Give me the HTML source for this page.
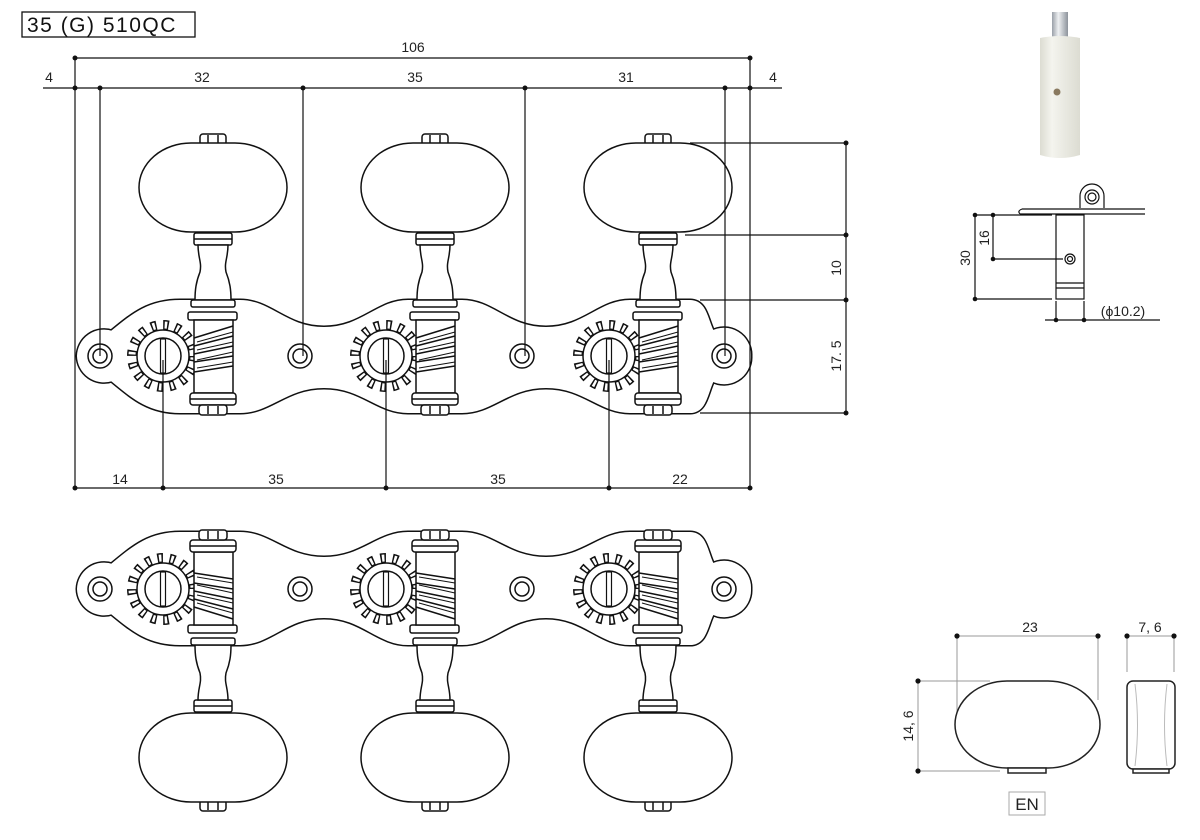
<!DOCTYPE html>
<html><head><meta charset="utf-8"><style>
html,body{margin:0;padding:0;background:#fff;width:1200px;height:840px;overflow:hidden}
svg{display:block}
text{font-family:"Liberation Sans",sans-serif;fill:#222}
</style></head><body>
<svg width="1200" height="840" viewBox="0 0 1200 840" xmlns="http://www.w3.org/2000/svg">
<defs>
<path id="plate" d="M80,356 A24,24 0 0 1 112,334 C135,315 150,303 180,303 L240,303 C270,303 285,330 324,330 C363,330 378,303 408,303 L462,303 C492,303 507,330 546,330 C585,330 600,303 630,303 L690,303 C705,303 705,322 712,334 A24,24 0 0 1 748,356 A24,24 0 0 1 712,378 C705,390 705,410 690,410 L630,410 C600,410 585,385 546,385 C507,385 492,410 462,410 L408,410 C378,410 363,385 324,385 C285,385 270,410 240,410 L180,410 C150,410 135,397 112,378 A24,24 0 0 1 80,356 Z"/>
<g id="gear">
<circle cx="0" cy="0" r="31" fill="none" stroke="#111" stroke-width="10" stroke-dasharray="5.5 6.67"/>
<circle cx="0" cy="0" r="31" fill="none" stroke="#fff" stroke-width="7" stroke-dasharray="2.5 9.67" stroke-dashoffset="-1.5"/>
<circle cx="0" cy="0" r="26" fill="#fff" stroke="#111" stroke-width="1.5"/>
<circle cx="0" cy="0" r="18" fill="#fff" stroke="#111" stroke-width="1.5"/>
<rect x="-2.5" y="-17" width="5" height="34" fill="#fff" stroke="#111" stroke-width="1.2"/>
</g>
<g id="tuner" fill="#fff" stroke="#111" stroke-width="1.5">
<rect x="-13" y="134" width="26" height="11" rx="3"/>
<line x1="-5" y1="135" x2="-5" y2="143"/><line x1="5" y1="135" x2="5" y2="143"/>
<rect x="-74" y="143" width="148" height="89" rx="52" ry="44.5"/>
<rect x="-19" y="233" width="38" height="12" rx="2"/>
<line x1="-19" y1="239" x2="19" y2="239"/>
<path d="M-15,245 L15,245 C15,258 11,262 13,272 C17,282 18,290 18,300 L-18,300 C-18,290 -17,282 -13,272 C-11,262 -15,258 -15,245 Z"/>
<rect x="-22" y="300" width="44" height="7" rx="2"/>
<rect x="-25" y="312" width="49" height="8" rx="2"/>
<rect x="-19" y="320" width="39" height="73"/>
<path d="M-19,338 L20,326 M-19,346 L20,336 M-19,354 L20,346 M-19,362 L20,356 M-19,372 L20,366" fill="none"/>
<path d="M-16,342 L20,332 M-16,350 L20,342 M-16,360 L20,352 M-16,368 L20,362" fill="none" stroke-width="1"/>
<rect x="-23" y="393" width="46" height="12" rx="3"/>
<line x1="-23" y1="399" x2="23" y2="399"/>
<rect x="-14" y="405" width="28" height="10" rx="3"/>
<line x1="-5" y1="406" x2="-5" y2="414"/><line x1="5" y1="406" x2="5" y2="414"/>
</g>
<g id="set">
<use href="#plate" fill="#fff" stroke="#111" stroke-width="9"/>
<use href="#plate" fill="#fff" stroke="#fff" stroke-width="6"/>
<g fill="#fff" stroke="#111" stroke-width="1.5">
<circle cx="100" cy="356" r="12"/><circle cx="100" cy="356" r="7"/>
<circle cx="724" cy="356" r="12"/><circle cx="724" cy="356" r="7"/>
<circle cx="300" cy="356" r="12"/><circle cx="300" cy="356" r="7"/>
<circle cx="522" cy="356" r="12"/><circle cx="522" cy="356" r="7"/>
</g>
<use href="#gear" transform="translate(163,356)"/>
<use href="#gear" transform="translate(386,356)"/>
<use href="#gear" transform="translate(609,356)"/>
<use href="#tuner" transform="translate(213,0)"/>
<use href="#tuner" transform="translate(435,0)"/>
<use href="#tuner" transform="translate(658,0)"/>
</g>
</defs>

<rect x="22" y="12" width="173" height="25" fill="#fff" stroke="#111" stroke-width="1.3"/>
<text x="27" y="32" font-size="21" letter-spacing="1.5" style="fill:#111">35 (G) 510QC</text>

<use href="#set"/>
<use href="#set" transform="translate(0,945) scale(1,-1)"/>

<g stroke="#111" stroke-width="1.2" fill="none">
<line x1="75" y1="58" x2="750" y2="58"/>
<line x1="43" y1="88" x2="782" y2="88"/>
<line x1="75" y1="58" x2="75" y2="488"/>
<line x1="750" y1="58" x2="750" y2="488"/>
<line x1="100" y1="88" x2="100" y2="356"/>
<line x1="303" y1="88" x2="303" y2="356"/>
<line x1="525" y1="88" x2="525" y2="356"/>
<line x1="725" y1="88" x2="725" y2="356"/>
<line x1="75" y1="488" x2="750" y2="488"/>
<line x1="163" y1="360" x2="163" y2="488"/>
<line x1="386" y1="360" x2="386" y2="488"/>
<line x1="609" y1="360" x2="609" y2="488"/>
<line x1="690" y1="143" x2="848" y2="143"/>
<line x1="685" y1="235" x2="848" y2="235"/>
<line x1="700" y1="300" x2="848" y2="300"/>
<line x1="700" y1="413" x2="848" y2="413"/>
<line x1="846" y1="143" x2="846" y2="413"/>
</g>
<g fill="#111">
<circle cx="75" cy="58" r="2.5"/><circle cx="750" cy="58" r="2.5"/>
<circle cx="75" cy="88" r="2.5"/><circle cx="100" cy="88" r="2.5"/><circle cx="303" cy="88" r="2.5"/><circle cx="525" cy="88" r="2.5"/><circle cx="725" cy="88" r="2.5"/><circle cx="750" cy="88" r="2.5"/>
<circle cx="75" cy="488" r="2.5"/><circle cx="163" cy="488" r="2.5"/><circle cx="386" cy="488" r="2.5"/><circle cx="609" cy="488" r="2.5"/><circle cx="750" cy="488" r="2.5"/>
<circle cx="846" cy="143" r="2.5"/><circle cx="846" cy="235" r="2.5"/><circle cx="846" cy="300" r="2.5"/><circle cx="846" cy="413" r="2.5"/>
</g>
<g font-size="14" text-anchor="middle">
<text x="413" y="52">106</text>
<text x="49" y="82">4</text>
<text x="202" y="82">32</text>
<text x="415" y="82">35</text>
<text x="626" y="82">31</text>
<text x="773" y="82">4</text>
<text x="120" y="484">14</text>
<text x="276" y="484">35</text>
<text x="498" y="484">35</text>
<text x="680" y="484">22</text>
<text transform="translate(841,268) rotate(-90)">10</text>
<text transform="translate(841,356) rotate(-90)">17. 5</text>
</g>

<defs>
<linearGradient id="pg" x1="0" x2="1"><stop offset="0" stop-color="#dcdcd2"/><stop offset="0.3" stop-color="#f4f4ee"/><stop offset="1" stop-color="#dcdcd2"/></linearGradient>
<linearGradient id="mt" x1="0" x2="1"><stop offset="0" stop-color="#9aa0a8"/><stop offset="0.4" stop-color="#eef0f2"/><stop offset="1" stop-color="#8d939b"/></linearGradient>
</defs>
<rect x="1052" y="12" width="16" height="32" fill="url(#mt)"/>
<path d="M1040,38 Q1060,34 1080,38 L1080,155 Q1060,161 1040,155 Z" fill="url(#pg)"/>
<circle cx="1057" cy="92" r="3.5" fill="#8a7a60"/>

<g stroke="#111" stroke-width="1.2" fill="#fff">
<path d="M1020,214 L1145,214 M1022,209 L1145,209 M1022,209 Q1017,211 1020,214"/>
<path d="M1080,208 L1080,196 A12,12 0 0 1 1104,196 L1104,208"/>
<circle cx="1092" cy="197" r="7"/><circle cx="1092" cy="197" r="4"/>
<rect x="1056" y="215" width="28" height="84"/>
<line x1="1056" y1="283" x2="1084" y2="283"/>
<line x1="1056" y1="288" x2="1084" y2="288"/>
<circle cx="1070" cy="259" r="5"/><circle cx="1070" cy="259" r="2.5"/>
<line x1="975" y1="215" x2="1052" y2="215"/>
<line x1="975" y1="215" x2="975" y2="299"/>
<line x1="975" y1="299" x2="1052" y2="299"/>
<line x1="993" y1="215" x2="993" y2="259"/>
<line x1="993" y1="259" x2="1063" y2="259"/>
<line x1="1056" y1="301" x2="1056" y2="322"/>
<line x1="1084" y1="301" x2="1084" y2="322"/>
<line x1="1045" y1="320" x2="1160" y2="320"/>
</g>
<g fill="#111"><circle cx="975" cy="215" r="2.3"/><circle cx="975" cy="299" r="2.3"/><circle cx="993" cy="215" r="2.3"/><circle cx="993" cy="259" r="2.3"/><circle cx="1056" cy="320" r="2.3"/><circle cx="1084" cy="320" r="2.3"/></g>
<g font-size="14" text-anchor="middle">
<text transform="translate(970,258) rotate(-90)">30</text>
<text transform="translate(989,238) rotate(-90)">16</text>
<text x="1123" y="316">(ϕ10.2)</text>
</g>

<g stroke="#999" stroke-width="1" fill="none">
<line x1="957" y1="636" x2="1098" y2="636"/>
<line x1="957" y1="636" x2="957" y2="720"/>
<line x1="1098" y1="636" x2="1098" y2="700"/>
<line x1="918" y1="681" x2="990" y2="681"/>
<line x1="918" y1="681" x2="918" y2="771"/>
<line x1="918" y1="771" x2="1000" y2="771"/>
<line x1="1127" y1="636" x2="1174" y2="636"/>
<line x1="1127" y1="636" x2="1127" y2="672"/>
<line x1="1174" y1="636" x2="1174" y2="672"/>
</g>
<g fill="#111"><circle cx="957" cy="636" r="2.6"/><circle cx="1098" cy="636" r="2.6"/><circle cx="918" cy="681" r="2.6"/><circle cx="918" cy="771" r="2.6"/><circle cx="1127" cy="636" r="2.6"/><circle cx="1174" cy="636" r="2.6"/></g>
<g stroke="#222" stroke-width="1.5" fill="#fff">
<rect x="955" y="681" width="145" height="87" rx="52" ry="43.5"/>
<rect x="1008" y="768" width="38" height="5"/>
<rect x="1127" y="681" width="48" height="88" rx="6"/>
<rect x="1133" y="769" width="36" height="4"/>
</g>
<path d="M1135,684 Q1140,725 1135,766 M1167,684 Q1162,725 1167,766" stroke="#bbb" fill="none"/>
<g font-size="14" text-anchor="middle">
<text x="1030" y="632">23</text>
<text x="1150" y="632">7, 6</text>
<text transform="translate(913,726) rotate(-90)">14, 6</text>
</g>
<rect x="1009" y="792" width="36" height="23" fill="#fff" stroke="#aaa"/>
<text x="1027" y="810" font-size="17" text-anchor="middle">EN</text>
</svg>
</body></html>
